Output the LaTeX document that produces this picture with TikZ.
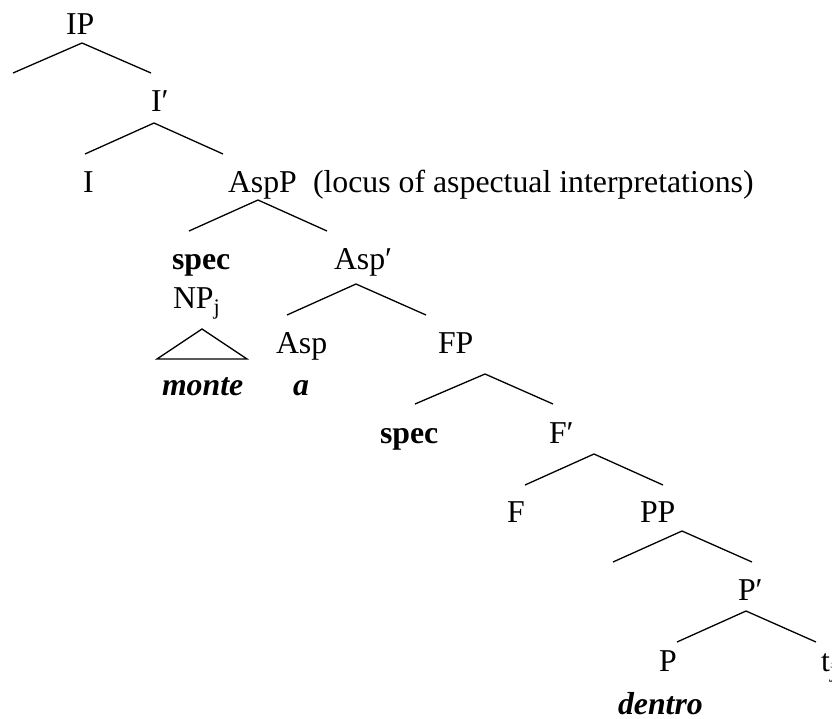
\documentclass[tikz,border=0pt]{standalone}
\usepackage{fontspec}
\setmainfont{Liberation Serif}
\begin{document}
\begin{tikzpicture}[x=1pt,y=-1pt,
  lbl/.style={anchor=base west,inner sep=0pt,outer sep=0pt,font=\fontsize{31.8}{36}\selectfont},
  br/.style={line width=1.3pt,line join=miter}]
\useasboundingbox (0,0) rectangle (832,718);
% labels
\node[lbl] (ip) at (66,34) {IP};
\node[lbl] (ibar) at (151,111) {I′};
\node[lbl] (i) at (83,192) {I};
\node[lbl] (aspp) at (228,192) {AspP};
\node[lbl] (note) at (313,192) {(locus of aspectual interpretations)};
\node[lbl] (spec1) at (172,269) {\bfseries spec};
\node[lbl] (aspbar) at (334,269) {Asp′};
\node[lbl] (np) at (173,308) {NP\textsubscript{j}};
\node[lbl] (asp) at (276,353) {Asp};
\node[lbl] (fp) at (438,353) {FP};
\node[lbl] (monte) at (162,395) {\bfseries\itshape monte};
\node[lbl] (a) at (293,395) {\bfseries\itshape a};
\node[lbl] (spec2) at (380,443) {\bfseries spec};
\node[lbl] (fbar) at (549,443) {F′};
\node[lbl] (f) at (507,522) {F};
\node[lbl] (pp) at (640,522) {PP};
\node[lbl] (pbar) at (738,600) {P′};
\node[lbl] (p) at (659,671) {P};
\node[lbl] (t) at (821,671) {t\textsubscript{j}};
\node[lbl] (dentro) at (618,714) {\bfseries\itshape dentro};
% branch points
\coordinate (ipT) at (82,43);  \coordinate (ipL) at (13,73);  \coordinate (ipR) at (151,73);
\coordinate (ibT) at (154,123); \coordinate (ibL) at (85,154); \coordinate (ibR) at (223,154);
\coordinate (apT) at (258,200); \coordinate (apL) at (189,231); \coordinate (apR) at (327,231);
\coordinate (abT) at (356,284); \coordinate (abL) at (287,315); \coordinate (abR) at (426,315);
\coordinate (fpT) at (485,374); \coordinate (fpL) at (415,404); \coordinate (fpR) at (553,404);
\coordinate (fbT) at (594,454); \coordinate (fbL) at (525,485); \coordinate (fbR) at (663,485);
\coordinate (ppT) at (682,531); \coordinate (ppL) at (613,562); \coordinate (ppR) at (752,562);
\coordinate (pbT) at (746,611); \coordinate (pbL) at (677,642); \coordinate (pbR) at (816,642);
\coordinate (trT) at (202,329); \coordinate (trL) at (157,359); \coordinate (trR) at (247,359);
% branches
\draw[br] (ipL) -- (ipT) -- (ipR);
\draw[br] (ibL) -- (ibT) -- (ibR);
\draw[br] (apL) -- (apT) -- (apR);
\draw[br] (abL) -- (abT) -- (abR);
\draw[br] (fpL) -- (fpT) -- (fpR);
\draw[br] (fbL) -- (fbT) -- (fbR);
\draw[br] (ppL) -- (ppT) -- (ppR);
\draw[br] (pbL) -- (pbT) -- (pbR);
\draw[br] (trL) -- (trT) -- (trR) -- cycle;
\end{tikzpicture}
\end{document}
